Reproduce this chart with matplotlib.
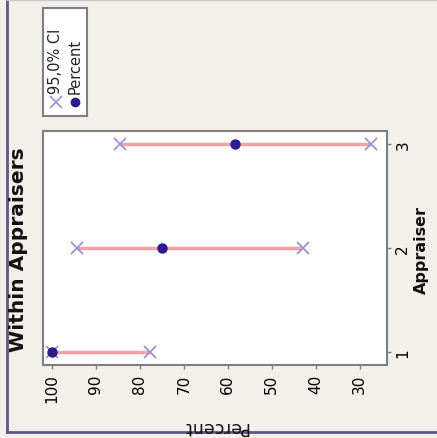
import matplotlib
matplotlib.use("Agg")
import matplotlib.pyplot as plt
from matplotlib.lines import Line2D

# Attribute agreement: within-appraiser percent with 95% confidence intervals
appraisers = [1, 2, 3]
percent = [100.0, 75.0, 58.3]
ci_lower = [77.7, 42.8, 27.5]
ci_upper = [100.0, 94.3, 84.6]
percent_ticks = [100, 90, 80, 70, 60, 50, 40, 30]

BG = "#F3EFE9"
SPINE = "#7F7F7F"
CI_LINE = "#F4A3A3"
CI_MARK = "#9C92D6"
DOT = "#2B1C8E"
FRAME = "#5D5686"

W, H = 437, 439
fig = plt.figure(figsize=(W / 100, H / 100), dpi=100, facecolor=BG)
plt.rcParams["font.family"] = ["DejaVu Sans"]

def fx(px):
    return px / W

def fy(py):
    return 1 - py / H

ax = fig.add_axes([fx(43), fy(366), fx(387) - fx(43), fy(132) - fy(366)])
ax.set_facecolor("white")

for a, lo, hi, p in zip(appraisers, ci_lower, ci_upper, percent):
    ax.plot([lo, hi], [a, a], color=CI_LINE, lw=2.5, solid_capstyle="butt", zorder=2)
    ax.plot([lo, hi], [a, a], ls="none", marker="x", ms=9, mew=1.3, color=CI_MARK, zorder=3)
    ax.plot([p], [a], ls="none", marker="o", ms=6.5, color=DOT, zorder=4)

ax.set_xlim(102.0, 23.8)
ax.set_ylim(0.878, 3.128)
ax.set_xticks(percent_ticks)
ax.set_xticklabels([str(t) for t in percent_ticks], rotation=90, fontsize=11)
ax.set_yticks(appraisers)
ax.set_yticklabels([str(a) for a in appraisers], rotation=90, fontsize=11, va="center")
ax.yaxis.tick_right()
ax.tick_params(axis="both", length=3, width=1, color=SPINE, pad=3)
for s in ax.spines.values():
    s.set_color(SPINE)
    s.set_linewidth(1.5)

# Titles and axis names
fig.text(fx(19), fy(250), "Within Appraisers", rotation=90, fontsize=14.5, fontweight="bold",
         ha="center", va="center", color="#111111")
fig.text(fx(421), fy(250), "Appraiser", rotation=90, fontsize=11.5, fontweight="bold",
         ha="center", va="center", color="#111111")
fig.text(fx(215), fy(427), "Percent", rotation=180, fontsize=12.5,
         ha="center", va="center", color="#111111")

# Legend box
lg = fig.add_axes([fx(43), fy(117), fx(87) - fx(43), fy(9) - fy(117)])
lg.set_facecolor("white")
lg.set_xlim(0, 44)
lg.set_ylim(108, 0)
lg.set_xticks([])
lg.set_yticks([])
for s in lg.spines.values():
    s.set_color(SPINE)
    s.set_linewidth(1.5)
lg.plot([13], [94], ls="none", marker="x", ms=8, mew=1.2, color=CI_MARK)
lg.plot([32], [94], ls="none", marker="o", ms=6, color=DOT)
lg.text(13, 85, "95,0% CI", rotation=90, fontsize=10.5, ha="center", va="bottom", color="#222222")
lg.text(32, 85, "Percent", rotation=90, fontsize=10.5, ha="center", va="bottom", color="#222222")

# Outer frame edges
fig.add_artist(Line2D([fx(6.5), fx(6.5)], [fy(433), 1], transform=fig.transFigure,
                      color=FRAME, lw=2))
fig.add_artist(Line2D([fx(6.5), 1], [fy(433), fy(433)], transform=fig.transFigure,
                      color=FRAME, lw=2))
fig.add_artist(Line2D([fx(6.5), 1], [fy(0.5), fy(0.5)], transform=fig.transFigure,
                      color="#C8C8C8", lw=1))

fig.savefig("out.png", dpi=100, facecolor=BG)
